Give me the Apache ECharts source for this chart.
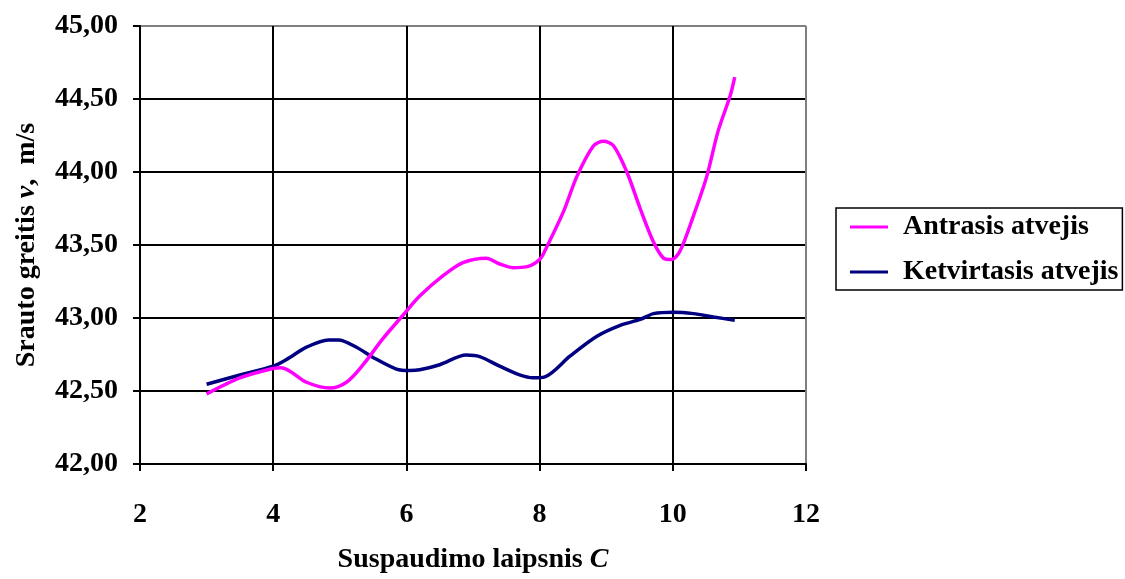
<!DOCTYPE html>
<html>
<head>
<meta charset="utf-8">
<script src="https://cdn.jsdelivr.net/npm/echarts@6/dist/echarts.min.js"></script>
<style>
  html, body { margin: 0; padding: 0; background: #fff; overflow: hidden; }
  #chart { width: 1125px; height: 579px; }
</style>
</head>
<body>
<div id="chart"></div>
<script>
const seriesNames = ['Antrasis atvejis', 'Ketvirtasis atvejis'];

const antrasisX = [3.0, 3.5, 4.0, 4.12, 4.5, 4.85, 5.1, 5.35, 5.65, 5.95, 6.2, 6.55, 6.85, 7.2, 7.4, 7.6, 7.8, 8.0, 8.1, 8.36, 8.56, 8.81, 8.96, 9.11, 9.31, 9.51, 9.71, 9.86, 9.98, 10.11, 10.31, 10.51, 10.68, 10.86, 10.93];
const antrasisY = [42.48, 42.59, 42.655, 42.66, 42.56, 42.52, 42.56, 42.68, 42.86, 43.02, 43.15, 43.29, 43.38, 43.41, 43.37, 43.345, 43.35, 43.40, 43.48, 43.73, 43.97, 44.18, 44.21, 44.18, 44.00, 43.75, 43.52, 43.41, 43.40, 43.46, 43.70, 43.97, 44.28, 44.52, 44.65];

const ketvirtasisX = [3.0, 3.5, 4.0, 4.2, 4.5, 4.83, 4.98, 5.25, 5.5, 5.85, 6.05, 6.2, 6.5, 6.9, 7.1, 7.4, 7.7, 7.9, 8.08, 8.46, 8.86, 9.21, 9.51, 9.71, 10.01, 10.31, 10.61, 10.93];
const ketvirtasisY = [42.546, 42.61, 42.67, 42.716, 42.80, 42.85, 42.85, 42.80, 42.73, 42.65, 42.64, 42.645, 42.68, 42.746, 42.735, 42.67, 42.61, 42.59, 42.597, 42.74, 42.875, 42.95, 42.99, 43.03, 43.04, 43.03, 43.007, 42.985];

const xTicks = { min: 2, max: 12, step: 2 };
const yTicks = { min: 42, max: 45, step: 0.5 };

const FONT = '"Liberation Serif", "Times New Roman", serif';
const FS = 28;
const pair = (xs, ys) => xs.map((x, i) => [x, ys[i]]);
const richText = {
  a: { fontFamily: FONT, fontWeight: 'bold', fontSize: FS, color: '#000' },
  i: { fontFamily: FONT, fontWeight: 'bold', fontStyle: 'italic', fontSize: FS, color: '#000' }
};

const chart = echarts.init(document.getElementById('chart'), null, { renderer: 'canvas' });

chart.setOption({
  animation: false,
  backgroundColor: '#ffffff',
  textStyle: { fontFamily: FONT, fontWeight: 'bold', color: '#000' },
  grid: { left: 140, right: 319, top: 26, bottom: 112, containLabel: false },
  legend: {
    orient: 'vertical',
    left: 836,
    top: 208,
    backgroundColor: '#fff',
    borderColor: '#000',
    borderWidth: 1.5,
    padding: [5, 4, 4, 14],
    itemGap: 17,
    itemWidth: 38,
    itemHeight: 3,
    icon: 'rect',
    textStyle: { fontFamily: FONT, fontWeight: 'bold', fontSize: FS, color: '#000', padding: [0, 0, 0, 10] },
    data: seriesNames
  },
  xAxis: {
    type: 'value',
    min: xTicks.min, max: xTicks.max, interval: xTicks.step,
    name: '{a|Suspaudimo laipsnis }{i|C}',
    nameLocation: 'middle',
    nameGap: 82,
    nameTextStyle: { rich: richText },
    axisLine: { show: true, lineStyle: { color: '#000', width: 2 } },
    axisTick: { show: true, inside: false, length: 7, lineStyle: { color: '#000', width: 2 } },
    axisLabel: { margin: 37, fontFamily: FONT, fontWeight: 'bold', fontSize: FS, color: '#000' },
    splitLine: { show: true, lineStyle: { color: ['#000', '#000', '#000', '#000', '#000', '#808080'], width: 2 } }
  },
  yAxis: {
    type: 'value',
    min: yTicks.min, max: yTicks.max, interval: yTicks.step,
    name: '{a|Srauto greitis }{i|v}{a|,  m/s}',
    nameLocation: 'middle',
    nameRotate: 90,
    nameGap: 99,
    nameTextStyle: { rich: richText },
    axisLine: { show: true, lineStyle: { color: '#000', width: 2 } },
    axisTick: { show: true, inside: false, length: 7, lineStyle: { color: '#000', width: 2 } },
    axisLabel: {
      margin: 22,
      fontFamily: FONT, fontWeight: 'bold', fontSize: FS, color: '#000',
      formatter: v => v.toFixed(2).replace('.', ',')
    },
    splitLine: { show: true, lineStyle: { color: ['#000', '#000', '#000', '#000', '#000', '#000', '#808080'], width: 2 } }
  },
  series: [
    {
      name: seriesNames[0],
      type: 'line',
      data: pair(antrasisX, antrasisY),
      smooth: 0.3,
      symbol: 'none',
      lineStyle: { color: '#FF00FF', width: 3.5 },
      itemStyle: { color: '#FF00FF' },
      z: 3
    },
    {
      name: seriesNames[1],
      type: 'line',
      data: pair(ketvirtasisX, ketvirtasisY),
      smooth: 0.3,
      symbol: 'none',
      lineStyle: { color: '#000080', width: 3.5 },
      itemStyle: { color: '#000080' },
      z: 2
    }
  ]
});
</script>
</body>
</html>
